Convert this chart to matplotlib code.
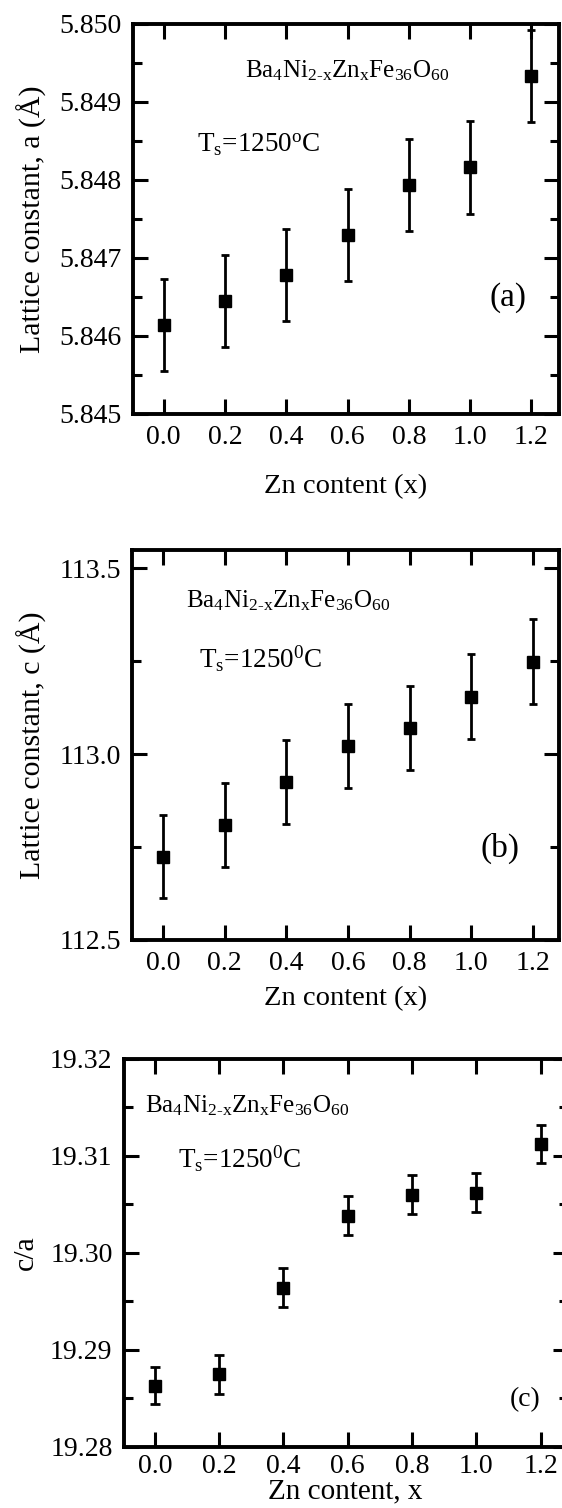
import matplotlib
matplotlib.use("Agg")
import matplotlib.pyplot as plt
from matplotlib.ticker import MultipleLocator, AutoMinorLocator, FormatStrFormatter

plt.rcParams['font.family'] = ['Liberation Serif', 'DejaVu Serif']
plt.rcParams['mathtext.fontset'] = 'custom'
plt.rcParams['mathtext.rm'] = 'Liberation Serif'
plt.rcParams['mathtext.it'] = 'Liberation Serif:italic'

# Zn content
x = [0.0, 0.2, 0.4, 0.6, 0.8, 1.0, 1.2]

# lattice constant a (A)
a_val = [5.84614, 5.84645, 5.84678, 5.84729, 5.84793, 5.84816, 5.84933]
a_err = [0.00059, 0.00059, 0.00059, 0.00059, 0.00059, 0.00059, 0.00059]

# lattice constant c (A)
c_val = [112.724, 112.809, 112.925, 113.022, 113.070, 113.154, 113.249]
c_err = [0.112, 0.112, 0.114, 0.113, 0.113, 0.114, 0.114]

# c/a ratio
ca_val = [19.2863, 19.2875, 19.2964, 19.3038, 19.3060, 19.3062, 19.3112]
ca_err = [0.0019, 0.0020, 0.0020, 0.0020, 0.0020, 0.0020, 0.0020]

formula = r'Ba$_4$Ni$_{\text{2-x}}$Zn$_\text{x}$Fe$_{36}$O$_{60}$'

fig = plt.figure(figsize=(5.62, 15.08), dpi=100)

ax1 = fig.add_axes([0.2367, 0.7255, 0.758, 0.2586])
ax2 = fig.add_axes([0.2349, 0.3767, 0.7598, 0.2583])
ax3 = fig.add_axes([0.2201, 0.0405, 0.790, 0.2575])


def style(ax, xlim, ylim, ymajor, fmt):
    ax.set_xlim(*xlim)
    ax.set_ylim(*ylim)
    ax.xaxis.set_major_locator(MultipleLocator(0.2))
    ax.xaxis.set_major_formatter(FormatStrFormatter('%.1f'))
    ax.yaxis.set_major_locator(MultipleLocator(ymajor))
    ax.yaxis.set_minor_locator(AutoMinorLocator(2))
    ax.yaxis.set_major_formatter(FormatStrFormatter(fmt))
    ax.tick_params(which='both', direction='in', top=True, right=True,
                   width=2.2, labelsize=20)
    ax.tick_params(which='major', length=10.5)
    ax.tick_params(which='minor', length=6.5)
    ax.tick_params(axis='x', pad=8)
    ax.tick_params(axis='y', pad=8)
    for s in ax.spines.values():
        s.set_linewidth(2.8)


ax1.errorbar(x, a_val, yerr=a_err, fmt='s', color='black', ms=8.8,
             elinewidth=2, capsize=3.2, capthick=2, clip_on=False)
style(ax1, (-0.1, 1.29), (5.845, 5.850), 0.001, '%.3f')
ax1.set_ylabel('Lattice constant, a (Å)', fontsize=21.5, labelpad=9)
ax1.set_xlabel('Zn content (x)', fontsize=20.5, labelpad=17)
ax1.text(0.264, 0.864, formula, transform=ax1.transAxes, fontsize=18)
ax1.text(0.150, 0.672, r'T$_\text{s}$=1250$^\text{o}$C', transform=ax1.transAxes, fontsize=19.5)
ax1.text(0.836, 0.277, '(a)', transform=ax1.transAxes, fontsize=24)

ax2.errorbar(x, c_val, yerr=c_err, fmt='s', color='black', ms=8.8,
             elinewidth=2, capsize=3.2, capthick=2)
style(ax2, (-0.1, 1.284), (112.5, 113.548), 0.5, '%.1f')
ax2.set_ylabel('Lattice constant, c (Å)', fontsize=21.5, labelpad=9)
ax2.set_xlabel('Zn content (x)', fontsize=20.5, labelpad=7)
ax2.text(0.127, 0.853, formula, transform=ax2.transAxes, fontsize=18)
ax2.text(0.157, 0.699, r'T$_\text{s}$=1250$^\text{0}$C', transform=ax2.transAxes, fontsize=19.5)
ax2.text(0.815, 0.213, '(b)', transform=ax2.transAxes, fontsize=24)

ax3.errorbar(x, ca_val, yerr=ca_err, fmt='s', color='black', ms=9.2,
             elinewidth=2, capsize=3.6, capthick=2)
style(ax3, (-0.097, 1.284), (19.28, 19.32), 0.01, '%.2f')
ax3.tick_params(axis='x', pad=5)
ax3.set_ylabel('c/a', fontsize=21.5, labelpad=8)
ax3.set_xlabel('Zn content, x', fontsize=21, labelpad=0)
ax3.text(0.049, 0.861, formula, transform=ax3.transAxes, fontsize=18)
ax3.text(0.123, 0.720, r'T$_\text{s}$=1250$^\text{0}$C', transform=ax3.transAxes, fontsize=19.5)
ax3.text(0.869, 0.104, '(c)', transform=ax3.transAxes, fontsize=20)

fig.savefig('out.png', dpi=100)
